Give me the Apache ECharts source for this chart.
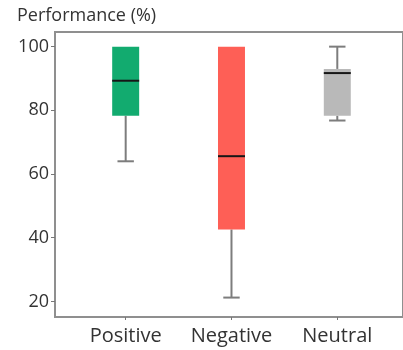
<!DOCTYPE html>
<html>
<head>
<meta charset="utf-8">
<script src="https://cdn.jsdelivr.net/npm/echarts@6/dist/echarts.min.js"></script>
<style>html,body{margin:0;padding:0;background:#fff}#c{width:403px;height:350px}</style>
</head>
<body>
<div id="c"></div>
<script>
var categories = ['Positive', 'Negative', 'Neutral'];
var mins    = [64, 21.2, 76.8];
var q1s     = [78.3, 42.6, 78.3];
var medians = [89.3, 65.6, 91.7];
var q3s     = [100, 100, 93];
var maxs    = [100, 100, 100];
var yTicks  = [20, 40, 60, 80, 100];
var boxColors = ['#12ab6f', '#fe5f56', '#b9b9b9'];

var FONT = 'Open Sans';
var data = categories.map(function (c, i) {
  return [i + 1, mins[i], q1s[i], medians[i], q3s[i], maxs[i]];
});

var chart = echarts.init(document.getElementById('c'), null, {renderer: 'canvas'});
chart.setOption({
  animation: false,
  title: {
    text: 'Performance (%)', left: 12, top: 2,
    textStyle: {fontFamily: FONT, fontSize: 18, fontWeight: 'normal', color: '#333'}
  },
  grid: {left: 55, right: 0, top: 32, bottom: 33, show: true, borderColor: '#8f8f8f', borderWidth: 2},
  xAxis: {
    type: 'value', min: 0.332, max: 3.621,
    splitLine: {show: false},
    axisLine: {show: true, lineStyle: {color: '#8f8f8f', width: 2}},
    axisTick: {show: true, customValues: [1, 2, 3], length: 3, lineStyle: {color: '#777'}},
    axisLabel: {
      customValues: [1, 2, 3], margin: 9,
      fontFamily: FONT, fontSize: 20, color: '#333',
      formatter: function (v) { return categories[Math.round(v) - 1] || ''; }
    }
  },
  yAxis: {
    type: 'value', min: 15.1, max: 104.6,
    splitLine: {show: false},
    axisLine: {show: true, lineStyle: {color: '#8f8f8f', width: 2}},
    axisTick: {show: true, customValues: yTicks, length: 4, lineStyle: {color: '#777'}},
    axisLabel: {customValues: yTicks, margin: 6, fontFamily: FONT, fontSize: 18, color: '#333'}
  },
  series: [{
    type: 'custom',
    data: data,
    encode: {x: 0, y: [1, 2, 3, 4, 5]},
    renderItem: function (params, api) {
      var x = api.value(0);
      var idx = params.dataIndex;
      var pMin = api.coord([x, api.value(1)]);
      var pQ1 = api.coord([x, api.value(2)]);
      var pMed = api.coord([x, api.value(3)]);
      var pQ3 = api.coord([x, api.value(4)]);
      var pMax = api.coord([x, api.value(5)]);
      var bw = api.size([0.255, 0])[0];
      var cw = api.size([0.155, 0])[0];
      var cx = pQ1[0];
      var lineStyle = {stroke: '#7d7d7d', lineWidth: 2};
      var children = [];
      if (pMax[1] < pQ3[1] - 0.5) {
        children.push({type: 'line', shape: {x1: cx, y1: pQ3[1], x2: cx, y2: pMax[1]}, style: lineStyle});
        children.push({type: 'line', shape: {x1: cx - cw / 2, y1: pMax[1], x2: cx + cw / 2, y2: pMax[1]}, style: lineStyle});
      }
      if (pMin[1] > pQ1[1] + 0.5) {
        children.push({type: 'line', shape: {x1: cx, y1: pQ1[1], x2: cx, y2: pMin[1]}, style: lineStyle});
        children.push({type: 'line', shape: {x1: cx - cw / 2, y1: pMin[1], x2: cx + cw / 2, y2: pMin[1]}, style: lineStyle});
      }
      children.push({type: 'rect', shape: {x: cx - bw / 2, y: pQ3[1], width: bw, height: pQ1[1] - pQ3[1]},
        style: {fill: boxColors[idx], stroke: null}});
      children.push({type: 'line', shape: {x1: cx - bw / 2, y1: pMed[1], x2: cx + bw / 2, y2: pMed[1]},
        style: {stroke: '#161616', lineWidth: 2}});
      return {type: 'group', children: children};
    }
  }]
});
</script>
</body>
</html>
